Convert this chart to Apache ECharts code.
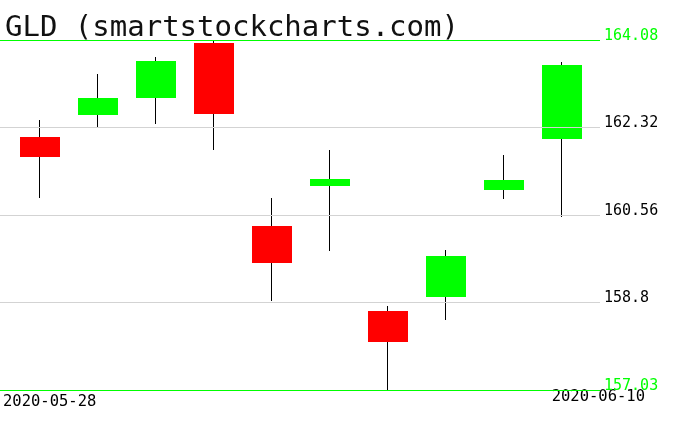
<!DOCTYPE html>
<html>
<head>
<meta charset="utf-8">
<script src="https://cdn.jsdelivr.net/npm/echarts@6/dist/echarts.min.js"></script>
<style>
  html, body { margin: 0; padding: 0; background: #fff; }
  #chart { width: 676px; height: 431px; }
</style>
</head>
<body>
<div id="chart"></div>
<script>
// GLD daily candles, 2020-05-28 .. 2020-06-10
const dates = ['2020-05-28', '2020-05-29', '2020-06-01', '2020-06-02', '2020-06-03',
               '2020-06-04', '2020-06-05', '2020-06-08', '2020-06-09', '2020-06-10'];
const opens  = [162.13, 162.56, 162.92, 164.01, 160.34, 161.13, 158.63, 158.90, 161.05, 162.09];
const closes = [161.72, 162.92, 163.66, 162.58, 159.58, 161.29, 157.99, 159.72, 161.27, 163.58];
const lows   = [160.89, 162.32, 162.38, 161.86, 158.82, 159.82, 157.03, 158.45, 160.87, 160.52];
const highs  = [162.47, 163.40, 163.74, 164.08, 160.90, 161.87, 158.73, 159.86, 161.77, 163.64];

const yTicks = [157.03, 158.7925, 160.555, 162.3175, 164.08];
const yTickLabels = ['157.03', '158.8', '160.56', '162.32', '164.08'];

const GREEN = '#00ff00';
const RED = '#ff0000';
const mono = 'DejaVu Sans Mono';

const candles = dates.map((d, i) => [i, opens[i], closes[i], lows[i], highs[i]]);

const chart = echarts.init(document.getElementById('chart'));

const tickIndex = (v) => {
  let best = 0;
  yTicks.forEach((t, i) => { if (Math.abs(t - v) < Math.abs(yTicks[best] - v)) best = i; });
  return best;
};
const isEdge = (i) => i === 0 || i === yTicks.length - 1;

chart.setOption({
  animation: false,
  backgroundColor: '#fff',
  title: {
    text: 'GLD (smartstockcharts.com)',
    left: 0,
    top: 9,
    textStyle: { fontFamily: mono, fontSize: 29, fontWeight: 'normal', color: '#111' },
  },
  grid: { left: 0, top: 40, width: 600, height: 350, containLabel: false },
  xAxis: {
    type: 'value',
    min: -0.672,
    max: 9.672,
    show: false,
  },
  yAxis: {
    type: 'value',
    position: 'right',
    min: 157.03,
    max: 164.08,
    z: 3,
    axisLine: { show: false },
    axisTick: { show: false, customValues: yTicks },
    axisLabel: {
      customValues: yTicks,
      margin: 4,
      verticalAlign: 'bottom',
      lineHeight: 8,
      fontFamily: mono,
      fontSize: 15,
      formatter: (v) => yTickLabels[tickIndex(v)],
      color: (v) => (isEdge(tickIndex(v)) ? GREEN : '#000'),
    },
    splitLine: {
      show: true,
      lineStyle: { color: [GREEN, '#d3d3d3', '#d3d3d3', '#d3d3d3', GREEN], width: 1 },
    },
  },
  graphic: [
    {
      type: 'text', left: 3, top: 394,
      style: { text: dates[0], font: '15.5px "DejaVu Sans Mono"', fill: '#000' },
    },
    {
      type: 'text', right: 31, top: 389,
      style: { text: dates[dates.length - 1], font: '15.5px "DejaVu Sans Mono"', fill: '#000' },
    },
  ],
  series: [
    {
      type: 'custom',
      data: candles,
      encode: { x: 0, y: [1, 2, 3, 4] },
      renderItem: (params, api) => {
        const x = api.value(0);
        const o = api.value(1), c = api.value(2), l = api.value(3), h = api.value(4);
        const pHigh = api.coord([x, h]);
        const pLow = api.coord([x, l]);
        const pOpen = api.coord([x, o]);
        const pClose = api.coord([x, c]);
        const w = 40;
        const cx = Math.round(pHigh[0]) + 0.5;
        const y0 = Math.round(Math.min(pOpen[1], pClose[1]));
        const y1 = Math.round(Math.max(pOpen[1], pClose[1]));
        return {
          type: 'group',
          children: [
            {
              type: 'line',
              shape: { x1: cx, y1: Math.round(pHigh[1]), x2: cx, y2: Math.round(pLow[1]) },
              style: { stroke: '#000', lineWidth: 1 },
            },
            {
              type: 'rect',
              shape: { x: Math.round(cx - w / 2), y: y0, width: w, height: Math.max(1, y1 - y0) },
              style: { fill: c >= o ? GREEN : RED },
            },
          ],
        };
      },
    },
  ],
});
</script>
</body>
</html>
